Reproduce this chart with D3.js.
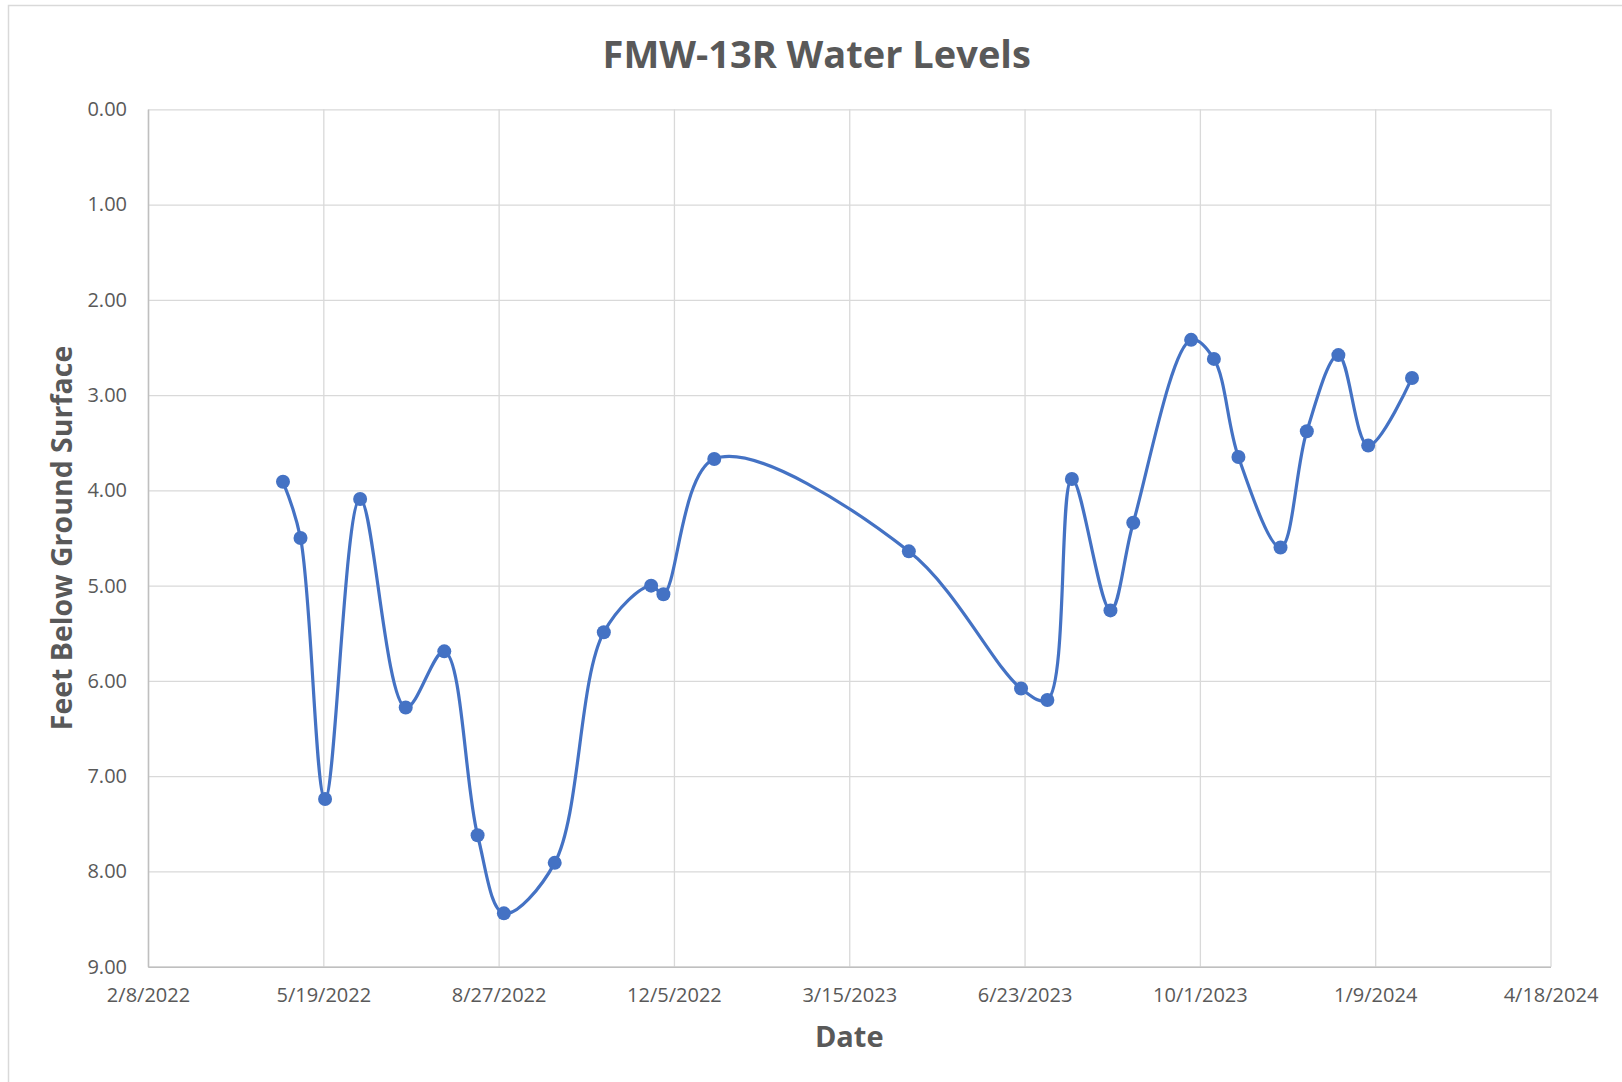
<!DOCTYPE html>
<html>
<head>
<meta charset="utf-8">
<script src="https://cdn.jsdelivr.net/npm/d3@7"></script>
<style>
  html, body { margin: 0; padding: 0; background: #fff; }
  text { font-family: "Open Sans", "DejaVu Sans", sans-serif; }
</style>
</head>
<body>
<div id="chart"></div>
<script>
// Relevés de niveau d'eau (pieds sous la surface du sol)
const dates = ["4/26/2022", "5/6/2022", "5/20/2022", "6/9/2022", "7/5/2022", "7/27/2022", "8/15/2022",
               "8/30/2022", "9/28/2022", "10/26/2022", "11/22/2022", "11/29/2022", "12/28/2022",
               "4/18/2023", "6/21/2023", "7/6/2023", "7/20/2023", "8/11/2023", "8/24/2023",
               "9/26/2023", "10/9/2023", "10/23/2023", "11/16/2023", "12/1/2023", "12/19/2023",
               "1/5/2024", "1/30/2024"];
const niveaux = [3.91, 4.50, 7.24, 4.09, 6.28, 5.69, 7.62,
                 8.44, 7.91, 5.49, 5.00, 5.09, 3.67,
                 4.64, 6.08, 6.20, 3.88, 5.26, 4.34,
                 2.42, 2.62, 3.65, 4.60, 3.38, 2.58,
                 3.53, 2.82];
const xTicks = ["2/8/2022", "5/19/2022", "8/27/2022", "12/5/2022", "3/15/2023",
                "6/23/2023", "10/1/2023", "1/9/2024", "4/18/2024"];
const yTicks = [0, 1, 2, 3, 4, 5, 6, 7, 8, 9];

const W = 1622, H = 1082;
const marge = {left: 148, right: W - 1550.5, top: 109.3, bottom: H - 966.7};
const gris = "#595959";

const parse = d3.utcParse("%m/%d/%Y");
const formatDate = d => (d.getUTCMonth() + 1) + "/" + d.getUTCDate() + "/" + d.getUTCFullYear();
const points = dates.map((d, i) => ({date: parse(d), val: niveaux[i]}));
const ticksX = xTicks.map(parse);

const svg = d3.select("#chart").append("svg")
  .attr("width", W)
  .attr("height", H);

svg.append("rect").attr("width", W).attr("height", H).attr("fill", "#fff");
// bordure du graphique (coupée à droite et en bas)
svg.append("rect")
  .attr("x", 8.5).attr("y", 5.5)
  .attr("width", W + 20).attr("height", H + 20)
  .attr("fill", "none").attr("stroke", "#d9d9d9").attr("stroke-width", 1.5);

const x = d3.scaleUtc()
  .domain([ticksX[0], ticksX[ticksX.length - 1]])
  .range([marge.left, W - marge.right]);
const y = d3.scaleLinear()
  .domain([0, 9])
  .range([marge.top, H - marge.bottom]);

// Quadrillage
svg.append("g")
  .attr("transform", "translate(0," + marge.top + ")")
  .call(d3.axisBottom(x).tickValues(ticksX).tickSize(H - marge.bottom - marge.top).tickFormat(""))
  .call(g => g.select(".domain").remove())
  .call(g => g.selectAll("line").attr("stroke", "#d9d9d9").attr("stroke-width", 1.3));
svg.append("g")
  .attr("transform", "translate(" + marge.left + ",0)")
  .call(d3.axisRight(y).tickValues(yTicks).tickSize(W - marge.right - marge.left).tickFormat(""))
  .call(g => g.select(".domain").remove())
  .call(g => g.selectAll("line").attr("stroke", "#d9d9d9").attr("stroke-width", 1.3));

// Axes
svg.append("g")
  .attr("transform", "translate(0," + (H - marge.bottom) + ")")
  .call(d3.axisBottom(x).tickValues(ticksX).tickSize(0).tickPadding(21).tickFormat(formatDate))
  .call(g => g.select(".domain").attr("stroke", "#bfbfbf").attr("stroke-width", 1.5))
  .call(g => g.selectAll("text").attr("fill", gris).style("font-size", "20px")
    .style("font-family", '"Open Sans", sans-serif'));
svg.append("g")
  .attr("transform", "translate(" + marge.left + ",0)")
  .call(d3.axisLeft(y).tickValues(yTicks).tickSize(0).tickPadding(21).tickFormat(d3.format(".2f")))
  .call(g => g.select(".domain").attr("stroke", "#bfbfbf").attr("stroke-width", 1.5))
  .call(g => g.selectAll("text").attr("fill", gris).style("font-size", "20px")
    .style("font-family", '"Open Sans", sans-serif'));

// Courbe lissée (centripète, moins de dépassement entre points rapprochés)
const ligne = d3.line()
  .x(d => x(d.date))
  .y(d => y(d.val))
  .curve(d3.curveCatmullRom.alpha(0.5));

svg.append("path")
  .datum(points)
  .attr("d", ligne)
  .attr("fill", "none")
  .attr("stroke", "#4472C4")
  .attr("stroke-width", 3.2);

svg.selectAll(".point")
  .data(points)
  .enter()
  .append("circle")
  .attr("class", "point")
  .attr("cx", d => x(d.date))
  .attr("cy", d => y(d.val))
  .attr("r", 7)
  .attr("fill", "#4472C4");

// Titres
svg.append("text")
  .attr("x", 816.7).attr("y", 67.7)
  .attr("text-anchor", "middle")
  .attr("fill", gris)
  .style("font-size", "38px").style("font-weight", "bold")
  .text("FMW-13R Water Levels");

svg.append("text")
  .attr("x", (marge.left + W - marge.right) / 2).attr("y", 1047)
  .attr("text-anchor", "middle")
  .attr("fill", gris)
  .style("font-size", "29px").style("font-weight", "bold")
  .text("Date");

svg.append("text")
  .attr("transform", "translate(72," + ((marge.top + H - marge.bottom) / 2) + ") rotate(-90)")
  .attr("text-anchor", "middle")
  .attr("fill", gris)
  .style("font-size", "28.5px").style("font-weight", "bold")
  .text("Feet Below Ground Surface");
</script>
</body>
</html>
